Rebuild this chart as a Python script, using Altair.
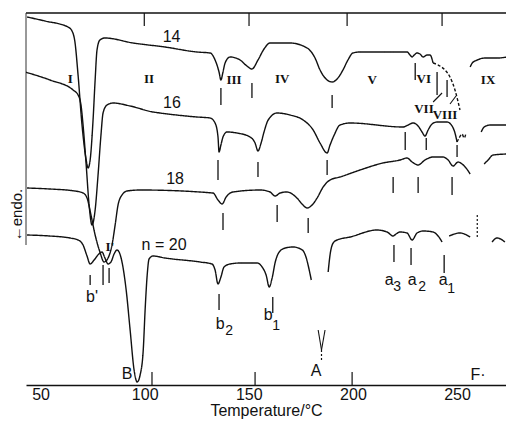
import altair as alt
import pandas as pd

W, H = 480, 372
XDOM = [43.0, 273.5]
YDOM = [0, 372]

# ---- DSC curves (temperature in °C, signal in arbitrary units) ----
c14_T = [43.5, 52.1, 63.2, 65.1, 66.5, 68.0, 69.9, 71.9, 72.8, 73.8, 75.2, 76.2, 77.1, 78.5, 80.9, 94.4, 109.7,
         125.1, 131.4, 133.8, 135.7, 136.6, 137.6, 138.6, 141.0, 145.8, 149.1, 151.5, 154.4, 157.3, 160.2, 169.8,
         178.0, 181.8, 184.2, 187.1, 190.0, 192.8, 195.2, 197.6, 200.0, 203.4, 226.0, 227.4, 228.4, 229.4, 230.8,
         232.2, 233.7, 235.6, 237.0, 238.5]
c14_y = [368, 364, 358, 354, 343, 310, 260, 225, 217, 225, 265, 305, 335, 345, 347, 342, 338,
         333, 332, 325, 313, 305, 313, 322, 328, 325, 319, 316, 325, 336, 342, 342,
         337, 327, 315, 306, 303, 307, 315, 325, 332, 333, 333, 330, 328, 330, 332,
         331, 328, 330, 330, 322]
c14_tail_T = [238.5, 240.9, 244.2, 246.6, 249.0, 251.4]
c14_tail_y = [322, 320, 315, 308, 295, 275]
c14_ix_T = [256.3, 257.3, 259.7, 263.5, 269.3, 274.1]
c14_ix_y = [318, 322, 325, 327, 327, 328]

c16_T = [42.5, 54.5, 65.6, 68.0, 69.4, 70.4, 71.9, 73.3, 74.7, 76.2, 77.6, 79.0, 80.0, 81.9, 84.8, 93.0, 104.0,
         107.4, 125.1, 131.4, 133.8, 135.2, 135.7, 136.6, 137.6, 139.5, 144.3, 150.6, 153.0, 154.4, 155.9, 157.3,
         159.3, 163.6, 169.8, 176.1, 180.9, 184.2, 187.6, 189.0, 191.0, 193.8, 198.6, 224.1, 226.5, 228.9, 231.3,
         233.2, 234.6, 236.1, 238.0, 240.4, 245.2, 247.6, 249.0, 250.0]
c16_y = [313, 305, 295, 290, 280, 260, 220, 180, 160, 175, 210, 250, 272, 280, 282, 279, 273,
         272, 268, 267, 262, 248, 233, 240, 248, 253, 252, 248, 242, 234, 242, 253,
         265, 272, 270, 265, 255, 242, 232, 240, 250, 260, 262, 258, 260, 262, 259,
         253, 249, 255, 261, 263, 263, 259, 252, 243]
c16_tail_T = [250.0, 251.0, 252.4, 253.4, 254.3]
c16_tail_y = [243, 247, 251, 247, 252]
c16_ix_T = [261.6, 263.0, 265.9, 275.5]
c16_ix_y = [253, 258, 260, 260]

c18_T = [43.5, 54.5, 66.5, 70.4, 72.3, 74.2, 76.2, 78.5, 80.5, 82.4, 84.3, 85.8, 87.2, 89.1, 91.5, 97.8, 132.8,
         135.2, 137.2, 139.1, 142.4, 155.4, 160.2, 162.6, 165.0, 168.3, 173.1, 176.0, 178.0, 180.4, 182.8, 185.7,
         189.0, 193.8, 203.4, 214.4, 222.6, 226.0, 228.4, 231.3, 234.6, 238.5, 243.3, 245.7, 248.1, 250.5, 252.4,
         254.3, 256.3]
c18_y = [197, 196, 194, 192, 187, 170, 150, 133, 123, 127, 140, 160, 180, 190, 194, 195, 192,
         185, 181, 188, 193, 195, 193, 189, 192, 193, 187, 180, 177, 180, 187, 198,
         205, 208, 215, 222, 225, 227, 223, 220, 225, 228, 228, 225, 219, 223, 221,
         217, 211]
c18_ix_T = [263.0, 264.9, 267.3, 274.1]
c18_ix_y = [221, 225, 230, 231]

c20_T = [43.5, 54.5, 64.1, 68.0, 70.4, 72.3, 73.8, 75.7, 78.0, 79.5, 80.9, 82.4, 83.8, 85.3, 86.7, 87.7, 89.1,
         91.1, 93.0, 94.9, 96.4, 97.8, 99.3, 100.2, 101.2, 102.1, 104.0, 109.7, 126.6, 132.3, 133.8, 135.2,
         136.6, 138.1, 141.0, 145.8, 154.0, 156.4, 158.3, 159.8, 161.2, 162.7, 164.6, 167.5, 171.3, 175.7,
         177.6, 179.0, 180.0]
c20_y = [150, 149, 147, 145, 140, 129, 121, 125, 131, 133, 127, 121, 123, 131, 135, 133, 123,
         95, 55, 15, 3, 10, 35, 75, 110, 126, 129, 127, 123, 121, 115, 101,
         108, 118, 121, 122, 122, 118, 110, 98, 107, 123, 133, 137, 138, 135,
         127, 115, 105]
c20_b_T = [188.1, 189.0, 190.5, 192.4, 198.6, 211.6, 216.4, 219.3, 220.7, 222.6, 226.0, 228.4, 230.8, 233.7,
           238.5, 240.9, 242.8]
c20_b_y = [113, 130, 142, 145, 148, 155, 153, 149, 151, 153, 152, 145, 152, 154, 153, 149, 143]
c20_c_T = [246.2, 251.4, 256.3]
c20_c_y = [149, 152, 148]
c20_d_T = [266.8, 269.2, 273.0]
c20_d_y = [143, 147, 143]

# ---- peak markers (T, y_from, y_to) ----
tick_T = [136.6, 151.5, 190.0, 229.9, 240.4, 245.2,
          135.2, 154.4, 187.6, 225.1, 235.2, 250.0,
          137.6, 163.6, 178.5, 219.3, 231.3, 247.6,
          73.8, 80.0, 82.9, 135.7, 161.5, 219.7, 227.9, 243.8]
tick_y1 = [297, 302, 290, 322, 313, 305,
           225, 223, 225, 253, 247, 240,
           172, 180, 167, 208, 208, 208,
           110, 120, 117, 91, 88, 140, 137, 130]
tick_y2 = [280, 287, 277, 305, 290, 288,
           205, 208, 210, 235, 235, 228,
           155, 163, 152, 192, 192, 190,
           100, 100, 102, 75, 72, 123, 120, 112]

# leader lines / break marks: (T1, T2, y1, y2)
seg_T1 = [238.5, 246.6, 183.3, 186.6]
seg_T2 = [242.8, 249.5, 184.9, 184.9]
seg_y1 = [283, 281, 55, 55]
seg_y2 = [292, 289, 35, 35]
dash_T1 = [184.9, 259.7]
dash_y1 = [35, 148]
dash_y2 = [23, 172]

# ---- labels ----
roman_txt = ["I", "II", "III", "IV", "V", "VI", "VII", "VIII", "IX", "I'"]
roman_T = [64.3, 102.1, 142.9, 166.0, 209.2, 234.0, 234.1, 244.2, 264.9, 83.3]
roman_y = [306, 306, 305, 306, 305, 306, 276, 270, 305, 138]

name_txt = ["14", "16", "18", "n = 20"]
name_T = [112.9, 113.1, 114.6, 109.3]
name_y = [348, 282, 206, 140]

let_txt = ["b'", "B", "A", "F·", "b", "b", "a", "a", "a"]
let_T = [74.7, 91.5, 182.3, 260.1, 136.3, 159.3, 217.4, 228.4, 243.3]
let_y = [88, 11, 14, 10, 61, 70, 105, 105, 105]

sub_txt = ["2", "1", "3", "2", "1"]
sub_T = [140.6, 163.1, 221.2, 233.2, 247.2]
sub_y = [54, 59, 98, 98, 96]

top_tick_T = [99.8, 150.1, 197.2, 242.8]
bot_tick_T = [103.5, 153.0, 199.6]
axis_vals = [50, 100, 150, 200, 250]


def seg(name, T, Y, style):
    return pd.DataFrame({"T": T, "y": Y, "seg": name, "style": style, "i": list(range(len(T)))})


lines = pd.concat([
    seg("14", c14_T, c14_y, "solid"), seg("14t", c14_tail_T, c14_tail_y, "dashed"),
    seg("14ix", c14_ix_T, c14_ix_y, "solid"),
    seg("16", c16_T, c16_y, "solid"), seg("16t", c16_tail_T, c16_tail_y, "dashed"),
    seg("16ix", c16_ix_T, c16_ix_y, "solid"),
    seg("18", c18_T, c18_y, "solid"), seg("18ix", c18_ix_T, c18_ix_y, "solid"),
    seg("20a", c20_T, c20_y, "solid"), seg("20b", c20_b_T, c20_b_y, "solid"),
    seg("20c", c20_c_T, c20_c_y, "solid"), seg("20d", c20_d_T, c20_d_y, "solid"),
], ignore_index=True)

FONT = "Liberation Sans"
xs = alt.Scale(domain=XDOM, nice=False, zero=False)
ys = alt.Scale(domain=YDOM, nice=False, zero=False)
xaxis = alt.Axis(values=axis_vals, format="d", title="Temperature/°C", grid=False,
                 ticks=False, tickSize=0, domainColor="#111", domainWidth=1.5,
                 labelFont=FONT, labelFontSize=16, labelColor="#111", labelPadding=14,
                 labelBaseline="alphabetic", labelFlush=False, labelOverlap=False, labelBound=False,
                 titleFont=FONT, titleFontSize=16, titleFontWeight="normal", titleColor="#111",
                 titleY=30, titleBaseline="alphabetic")


def X(field="T"):
    return alt.X(f"{field}:Q", scale=xs, axis=xaxis)


def Y(field="y"):
    return alt.Y(f"{field}:Q", scale=ys, axis=None)


curve_layer = alt.Chart(lines).mark_line(color="#111", strokeWidth=1.4, interpolate="monotone", clip=True).encode(
    x=X(), y=Y(), detail="seg:N", order="i:Q",
    strokeDash=alt.StrokeDash("style:N", scale=alt.Scale(domain=["solid", "dashed"], range=[[1, 0], [3, 2]]),
                              legend=None),
)

ticks_df = pd.DataFrame({"T": tick_T, "y": tick_y1, "y2": tick_y2})
tick_layer = alt.Chart(ticks_df).mark_rule(color="#111", strokeWidth=1.3).encode(
    x=X(), y=Y(), y2="y2:Q")

segs_df = pd.DataFrame({"T": seg_T1, "T2": seg_T2, "y": seg_y1, "y2": seg_y2})
seg_layer = alt.Chart(segs_df).mark_rule(color="#111", strokeWidth=1.1).encode(
    x=X(), x2="T2:Q", y=Y(), y2="y2:Q")

dash_df = pd.DataFrame({"T": dash_T1, "y": dash_y1, "y2": dash_y2})
dash_layer = alt.Chart(dash_df).mark_rule(color="#111", strokeWidth=1.2, strokeDash=[2, 2]).encode(
    x=X(), y=Y(), y2="y2:Q")

roman_df = pd.DataFrame({"T": roman_T, "y": roman_y, "t": roman_txt})
roman_layer = alt.Chart(roman_df).mark_text(font="Liberation Serif", fontSize=13, fontWeight="bold",
                                            color="#111", baseline="middle").encode(
    x=X(), y=Y(), text="t:N")

name_df = pd.DataFrame({"T": name_T, "y": name_y, "t": name_txt})
name_layer = alt.Chart(name_df).mark_text(font=FONT, fontSize=16, color="#111", baseline="middle").encode(
    x=X(), y=Y(), text="t:N")

let_df = pd.DataFrame({"T": let_T, "y": let_y, "t": let_txt})
let_layer = alt.Chart(let_df).mark_text(font=FONT, fontSize=16, color="#111", baseline="middle").encode(
    x=X(), y=Y(), text="t:N")

sub_df = pd.DataFrame({"T": sub_T, "y": sub_y, "t": sub_txt})
sub_layer = alt.Chart(sub_df).mark_text(font=FONT, fontSize=14, color="#111", baseline="middle").encode(
    x=X(), y=Y(), text="t:N")

one = pd.DataFrame({"a": [0]})
top_frame = alt.Chart(one).mark_rule(color="#111", strokeWidth=1.5).encode(
    x=alt.value(0), x2=alt.value(W), y=alt.value(0))
left_frame = alt.Chart(one).mark_rule(color="#333", strokeWidth=1.0).encode(
    x=alt.value(0), y=alt.value(0), y2=alt.value(232))

top_df = pd.DataFrame({"T": top_tick_T})
top_ticks = alt.Chart(top_df).mark_rule(color="#111", strokeWidth=1.2).encode(
    x=X(), y=alt.value(0), y2=alt.value(13))
bot_df = pd.DataFrame({"T": bot_tick_T})
bot_ticks = alt.Chart(bot_df).mark_rule(color="#111", strokeWidth=1.2).encode(
    x=X(), y=alt.value(H), y2=alt.value(H - 13))

ytitle = alt.Chart(one).mark_text(font=FONT, fontSize=15, angle=270, color="#111", baseline="middle").encode(
    x=alt.value(-9), y=alt.value(202), text=alt.value("←endo."))

chart = alt.layer(
    top_frame, left_frame, top_ticks, bot_ticks, curve_layer, tick_layer, seg_layer, dash_layer,
    roman_layer, name_layer, let_layer, sub_layer, ytitle
).properties(
    width=W, height=H,
    autosize=alt.AutoSizeParams(type="none"),
    padding={"left": 18, "top": 5, "right": 0, "bottom": 34},
    background="white",
).configure_view(stroke=None)

chart.save("out.html", embed_options={"renderer": "svg", "actions": False})
